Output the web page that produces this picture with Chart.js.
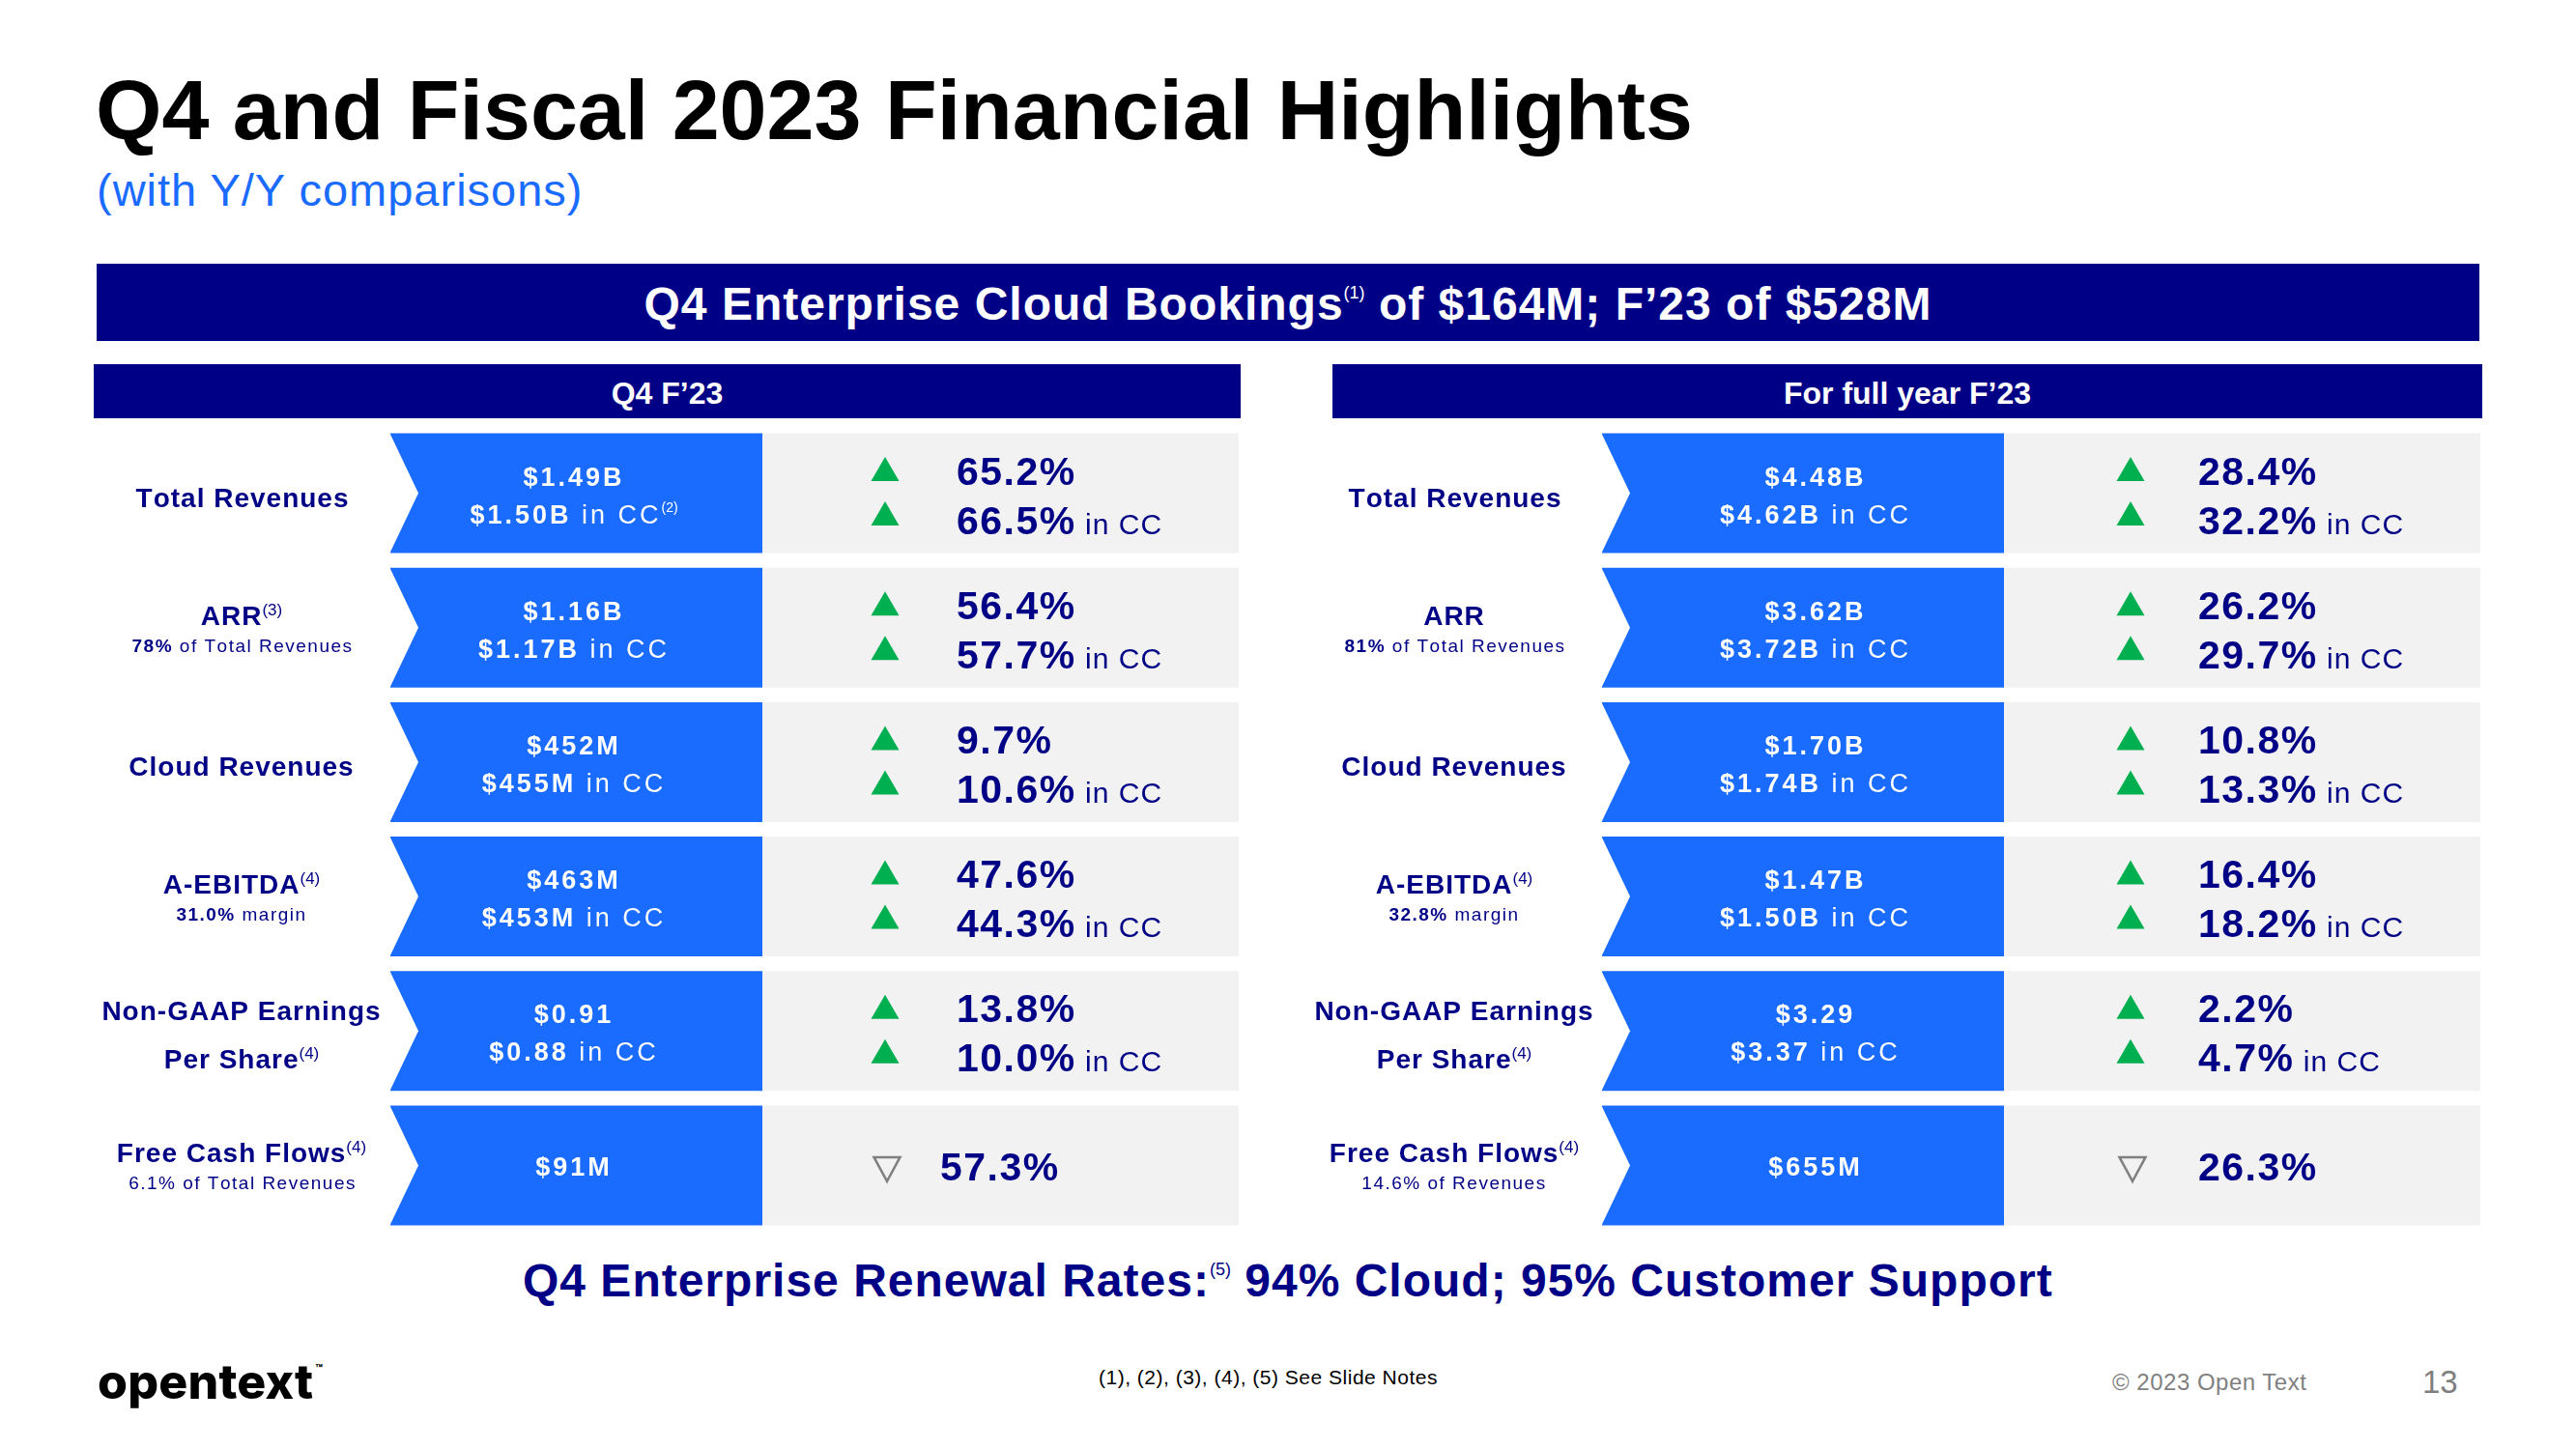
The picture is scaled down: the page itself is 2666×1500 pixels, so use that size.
<!DOCTYPE html>
<html>
<head>
<meta charset="utf-8">
<script src="https://cdn.jsdelivr.net/npm/chart.js@4.4.0/dist/chart.umd.min.js"></script>
<style>
  body { margin: 0; width: 2666px; height: 1500px; background: #fff; position: relative; overflow: hidden;
         font-family: "Liberation Sans", Arial, sans-serif; }
  .abs { position: absolute; white-space: nowrap; line-height: 1; }
  .sup { font-size: 18px; position: relative; top: -22px; font-weight: normal; letter-spacing: 0; }
  .bar-head { position: absolute; background: #000086; color: #fff; font-weight: bold; }
  canvas { position: absolute; }
</style>
</head>
<body>

<div class="abs" style="left:99px;top:70px;font-size:88px;font-weight:bold;color:#000;">Q4 and Fiscal 2023 Financial Highlights</div>
<div class="abs" style="left:100px;top:173px;font-size:47px;letter-spacing:1px;color:#1a6bff;">(with Y/Y comparisons)</div>

<div class="bar-head" style="left:100px;top:273px;width:2466px;height:80px;">
  <div class="abs" style="left:0;width:100%;text-align:center;top:18px;font-size:48px;">
    <span style="letter-spacing:1px;">Q4 Enterprise Cloud Bookings</span><span class="sup">(1)</span><span style="letter-spacing:1px;"> of $164M; F’23 of $528M</span>
  </div>
</div>

<div class="bar-head" style="left:97px;top:377px;width:1187px;height:56px;">
  <div class="abs" style="left:0;width:100%;text-align:center;top:14px;font-size:32px;">Q4 F’23</div>
</div>
<div class="bar-head" style="left:1379px;top:377px;width:1190px;height:56px;">
  <div class="abs" style="left:0;width:100%;text-align:center;top:14px;font-size:32px;">For full year F’23</div>
</div>

<canvas id="q4Chart" width="1187" height="835" style="left:97px;top:441px;"></canvas>
<canvas id="fyChart" width="1229" height="835" style="left:1340px;top:441px;"></canvas>

<div class="abs" style="left:541px;top:1302px;font-size:48px;font-weight:bold;color:#000086;"><span style="letter-spacing:1px;">Q4 Enterprise Renewal Rates:</span><span class="sup">(5)</span><span style="letter-spacing:1px;"> 94% Cloud; 95% Customer Support</span></div>

<div class="abs" style="left:1137px;top:1415px;font-size:21px;letter-spacing:0.5px;color:#000;">(1), (2), (3), (4), (5) See Slide Notes</div>
<div class="abs" style="left:101px;top:1405px;font-family:Inter,sans-serif;font-size:50px;font-weight:800;letter-spacing:0.2px;color:#000;">opentext<span style="font-size:12px;position:relative;top:-27px;margin-left:2px;">™</span></div>
<div class="abs" style="left:2186px;top:1419px;font-size:24px;letter-spacing:0.5px;color:#7f7f7f;">© 2023 Open Text</div>
<div class="abs" style="left:2507px;top:1414px;font-size:33px;color:#7f7f7f;">13</div>

<script>
// ---- data ----
const metrics   = ["Total Revenues", "ARR", "Cloud Revenues", "A-EBITDA", "Non-GAAP Earnings\nPer Share", "Free Cash Flows"];

const q4Notes   = ["", "(3)", "", "(4)", "(4)", "(4)"];
const q4Subs    = ["", "78% of Total Revenues", "", "31.0% margin", "", "6.1% of Total Revenues"];
const q4Values  = ["$1.49B", "$1.16B", "$452M", "$463M", "$0.91", "$91M"];
const q4CC      = ["$1.50B", "$1.17B", "$455M", "$453M", "$0.88", null];
const q4CCNotes = ["(2)", "", "", "", "", ""];
const q4Growth  = [65.2, 56.4, 9.7, 47.6, 13.8, -57.3];
const q4GrowthCC = [66.5, 57.7, 10.6, 44.3, 10.0, null];

const fyNotes   = ["", "", "", "(4)", "(4)", "(4)"];
const fySubs    = ["", "81% of Total Revenues", "", "32.8% margin", "", "14.6% of Revenues"];
const fyValues  = ["$4.48B", "$3.62B", "$1.70B", "$1.47B", "$3.29", "$655M"];
const fyCC      = ["$4.62B", "$3.72B", "$1.74B", "$1.50B", "$3.37", null];
const fyCCNotes = ["", "", "", "", "", ""];
const fyGrowth  = [28.4, 26.2, 10.8, 16.4, 2.2, -26.3];
const fyGrowthCC = [32.2, 29.7, 13.3, 18.2, 4.7, null];

// ---- styles ----
const NAVY = "#000086";
const BLUE = "#1a6bff";
const GRAY = "#f2f2f2";
const GREEN = "#00b050";
const FONT = '"Liberation Sans", Arial, sans-serif';
const NOTCH = 29;

function runWidth(ctx, r) {
  ctx.font = r.font;
  return ctx.measureText(r.t).width + (r.sp || 0) * r.t.length;
}

function drawRuns(ctx, runs, x, y, align) {
  const widths = runs.map(r => runWidth(ctx, r));
  const total = widths.reduce((a, b) => a + b, 0);
  let cx = align === "center" ? x - total / 2 : x;
  runs.forEach((r, i) => {
    ctx.font = r.font;
    ctx.fillStyle = r.color;
    const yy = y + (r.dy || 0);
    if (!r.sp) {
      ctx.fillText(r.t, cx, yy);
    } else {
      let px = cx;
      for (const ch of r.t) {
        ctx.fillText(ch, px, yy);
        px += ctx.measureText(ch).width + r.sp;
      }
    }
    cx += widths[i];
  });
}

function triangle(ctx, x, y, w, h, up) {
  ctx.beginPath();
  if (up) {
    ctx.moveTo(x, y - h / 2); ctx.lineTo(x + w / 2, y + h / 2); ctx.lineTo(x - w / 2, y + h / 2);
  } else {
    ctx.moveTo(x - w / 2, y - h / 2); ctx.lineTo(x + w / 2, y - h / 2); ctx.lineTo(x, y + h / 2);
  }
  ctx.closePath();
}

function textPlugin(p) {
  return {
    id: "panelText",
    afterDatasetsDraw(chart) {
      const ctx = chart.ctx;
      const x0 = chart.chartArea.left;
      const bars = chart.getDatasetMeta(0).data;
      ctx.save();
      ctx.textBaseline = "alphabetic";
      bars.forEach((bar, i) => {
        const c = bar.y, top = c - bar.height / 2, bot = c + bar.height / 2;

        // chevron notch on the left of the blue cell
        ctx.fillStyle = "#fff";
        ctx.beginPath();
        ctx.moveTo(bar.base - 1, top - 1);
        ctx.lineTo(bar.base + NOTCH, c);
        ctx.lineTo(bar.base - 1, bot + 1);
        ctx.closePath();
        ctx.fill();

        // row label
        const lx = x0 + p.labelX;
        const lines = chart.data.labels[i].split("\n");
        const labFont = `bold 28px ${FONT}`;
        const note = p.notes[i] ? [{ t: p.notes[i], font: `17px ${FONT}`, color: NAVY, dy: -10 }] : [];
        if (p.subs[i]) {
          drawRuns(ctx, [{ t: lines[0], font: labFont, color: NAVY, sp: 1 }, ...note], lx, c - 3, "center");
          const sp = p.subs[i].indexOf(" ");
          const head = p.subs[i].slice(0, sp), rest = p.subs[i].slice(sp);
          const boldHead = i !== chart.data.labels.length - 1;
          drawRuns(ctx, [
            { t: head, font: `${boldHead ? "bold " : ""}19px ${FONT}`, color: NAVY, sp: 1.5 },
            { t: rest, font: `19px ${FONT}`, color: NAVY, sp: 1.5 },
          ], lx, c + 25, "center");
        } else if (lines.length > 1) {
          drawRuns(ctx, [{ t: lines[0], font: labFont, color: NAVY, sp: 1 }], lx, c - 11, "center");
          drawRuns(ctx, [{ t: lines[1], font: labFont, color: NAVY, sp: 1 }, ...note], lx, c + 39, "center");
        } else {
          drawRuns(ctx, [{ t: lines[0], font: labFont, color: NAVY, sp: 1 }, ...note], lx, c + 14, "center");
        }

        // value in blue cell
        const vx = x0 + p.valueX;
        const vFont = `bold 27px ${FONT}`;
        if (p.cc[i]) {
          drawRuns(ctx, [{ t: p.values[i], font: vFont, color: "#fff", sp: 3 }], vx, c - 8, "center");
          const r = [{ t: p.cc[i], font: vFont, color: "#fff", sp: 3 }, { t: " in CC", font: `27px ${FONT}`, color: "#fff", sp: 3 }];
          if (p.ccNotes[i]) r.push({ t: p.ccNotes[i], font: `14px ${FONT}`, color: "#fff", dy: -12 });
          drawRuns(ctx, r, vx, c + 31, "center");
        } else {
          drawRuns(ctx, [{ t: p.values[i], font: vFont, color: "#fff", sp: 3 }], vx, c + 11, "center");
        }

        // growth in gray cell
        const gx = x0 + p.growthX, tx = x0 + p.triX;
        const gFont = `bold 41px ${FONT}`;
        const g = p.growth[i];
        if (p.growthCC[i] !== null) {
          ctx.fillStyle = GREEN;
          triangle(ctx, tx, c - 25, 29, 25, g >= 0); ctx.fill();
          triangle(ctx, tx, c + 21, 29, 25, p.growthCC[i] >= 0); ctx.fill();
          drawRuns(ctx, [{ t: Math.abs(g).toFixed(1) + "%", font: gFont, color: NAVY, sp: 1.5 }], gx, c - 9, "left");
          drawRuns(ctx, [
            { t: Math.abs(p.growthCC[i]).toFixed(1) + "%", font: gFont, color: NAVY, sp: 1.5 },
            { t: " in CC", font: `30px ${FONT}`, color: NAVY, sp: 1 },
          ], gx, c + 42, "left");
        } else {
          ctx.strokeStyle = "#808080";
          ctx.lineWidth = 2.5;
          ctx.lineJoin = "miter";
          triangle(ctx, tx + 2, c + 4, 27, 25, g >= 0); ctx.stroke();
          drawRuns(ctx, [{ t: Math.abs(g).toFixed(1) + "%", font: gFont, color: NAVY, sp: 1.5 }], gx + p.singleShift, c + 16, "left");
        }
      });
      ctx.restore();
    },
  };
}

function makePanel(id, cols, p) {
  const ctx = document.getElementById(id).getContext("2d");
  return new Chart(ctx, {
    type: "bar",
    data: {
      labels: metrics,
      datasets: [
        { label: "value", data: metrics.map(() => [cols.blueStart, cols.blueEnd]), backgroundColor: BLUE,
          grouped: false, barPercentage: 0.891, categoryPercentage: 1 },
        { label: "growth", data: metrics.map(() => [cols.blueEnd, cols.grayEnd]), backgroundColor: GRAY,
          grouped: false, barPercentage: 0.891, categoryPercentage: 1 },
      ],
    },
    options: {
      indexAxis: "y",
      responsive: false,
      devicePixelRatio: 1,
      animation: false,
      events: [],
      layout: { padding: 0 },
      plugins: { legend: { display: false }, tooltip: { enabled: false } },
      scales: {
        x: { type: "linear", min: 0, max: cols.width, display: false },
        y: { display: false, offset: true },
      },
    },
    plugins: [textPlugin(p)],
  });
}

makePanel("q4Chart", { width: 1187, blueStart: 307, blueEnd: 692, grayEnd: 1185 }, {
  labelX: 153, valueX: 497, triX: 819, growthX: 893, singleShift: -17,
  notes: q4Notes, subs: q4Subs, values: q4Values, cc: q4CC, ccNotes: q4CCNotes,
  growth: q4Growth, growthCC: q4GrowthCC,
});

makePanel("fyChart", { width: 1229, blueStart: 318, blueEnd: 734, grayEnd: 1227 }, {
  labelX: 165, valueX: 539, triX: 865, growthX: 935, singleShift: 0,
  notes: fyNotes, subs: fySubs, values: fyValues, cc: fyCC, ccNotes: fyCCNotes,
  growth: fyGrowth, growthCC: fyGrowthCC,
});
</script>
</body>
</html>
